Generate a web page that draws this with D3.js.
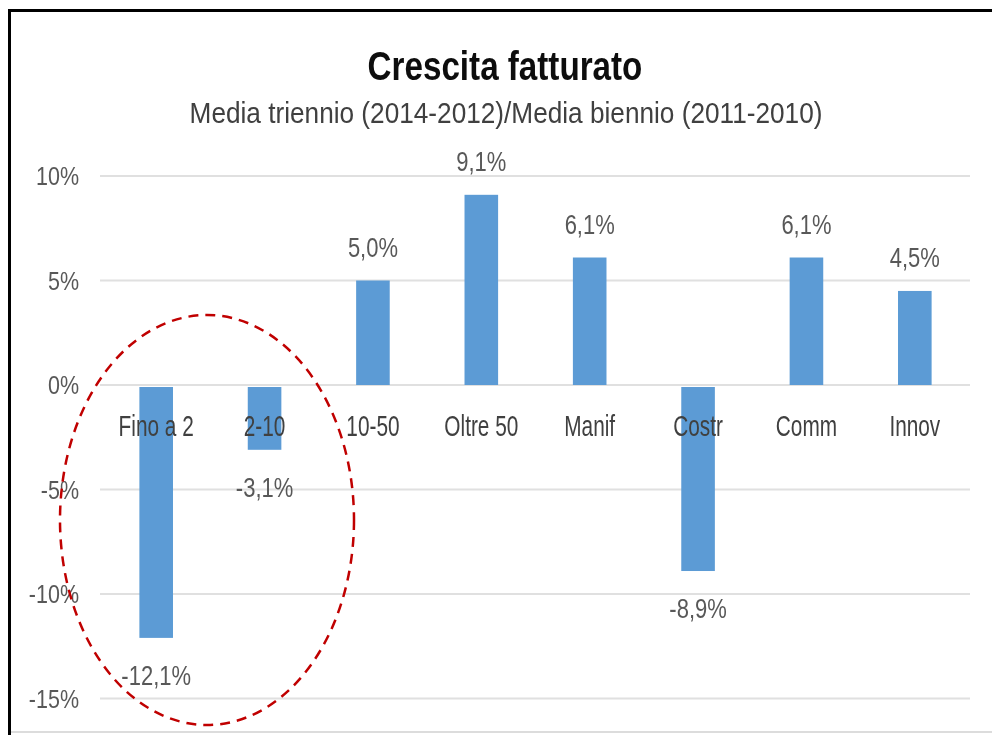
<!DOCTYPE html>
<html>
<head>
<meta charset="utf-8">
<script src="https://cdn.jsdelivr.net/npm/d3@7"></script>
<style>
  body { margin: 0; background: #fff; }
  text { font-family: "Liberation Sans", Arial, sans-serif; }
</style>
</head>
<body>
<script>
// chart data
var categories = ['Fino a 2', '2-10', '10-50', 'Oltre 50', 'Manif', 'Costr', 'Comm', 'Innov'];
var growth = [-12.1, -3.1, 5.0, 9.1, 6.1, -8.9, 6.1, 4.5];
var yTicks = [-15, -10, -5, 0, 5, 10];
var title = 'Crescita fatturato';
var subtitle = 'Media triennio (2014-2012)/Media biennio (2011-2010)';

var width = 992;
var height = 735;

var svg = d3.select('body').append('svg')
            .attr('width', width)
            .attr('height', height);

// the source is a soft, slightly blurred screenshot
svg.append('defs').append('filter')
   .attr('id', 'soft')
   .append('feGaussianBlur')
   .attr('stdDeviation', 0.45);

var fmt = function(v){
  return v.toFixed(1).replace('.', ',') + '%';
};

var x = d3.scaleBand()
          .domain(categories)
          .range([102, 969])
          .paddingInner(0.69)
          .paddingOuter(0.345);

var y = d3.scaleLinear()
          .domain([-15, 10])
          .range([698.5, 176]);

// frame (photo crop)
svg.append('line').attr('x1', 8).attr('x2', width).attr('y1', 10.5).attr('y2', 10.5)
   .attr('stroke', '#000').attr('stroke-width', 3);
svg.append('line').attr('x1', 9.5).attr('x2', 9.5).attr('y1', 9).attr('y2', height)
   .attr('stroke', '#000').attr('stroke-width', 3);
svg.append('line').attr('x1', 11).attr('x2', width).attr('y1', 732).attr('y2', 732)
   .attr('stroke', '#d0d0d0').attr('stroke-width', 1.5);

var chart = svg.append('g').attr('filter', 'url(#soft)');

// stretched text helper
var label = function(g, tx, ty, str, size, sy, anchor, fill, weight){
  return g.append('text')
    .attr('transform', 'translate(' + tx + ',' + ty + ') scale(1,' + sy + ')')
    .attr('text-anchor', anchor)
    .attr('font-size', size)
    .attr('font-weight', weight || 'normal')
    .attr('fill', fill)
    .text(str);
};

label(chart, 505, 80, title, 33.2, 1.25, 'middle', '#0d0d0d', 'bold');
label(chart, 506, 123, subtitle, 26.2, 1.1, 'middle', '#404040');

// y axis gridlines + labels
var grid = chart.append('g');
grid.selectAll('line')
    .data(yTicks)
    .enter()
    .append('line')
    .attr('x1', 100)
    .attr('x2', 970)
    .attr('y1', function(d){ return y(d); })
    .attr('y2', function(d){ return y(d); })
    .attr('stroke', '#e0e0e0')
    .attr('stroke-width', 2);

yTicks.forEach(function(t){
  label(grid, 79, y(t) + 9, t + '%', 21.5, 1.2, 'end', '#595959');
});

// bars
chart.selectAll('rect.bar')
   .data(growth)
   .enter()
   .append('rect')
   .attr('class', 'bar')
   .attr('x', function(d, i){ return x(categories[i]); })
   .attr('width', x.bandwidth())
   .attr('y', function(d){ return d >= 0 ? y(d) : y(0) + 2; })
   .attr('height', function(d){ return d >= 0 ? y(0) - y(d) : y(d) - y(0) - 2; })
   .attr('fill', '#5B9BD5');

// category labels
var cats = chart.append('g');
categories.forEach(function(c){
  label(cats, x(c) + x.bandwidth() / 2, 436, c, 20.8, 1.4, 'middle', '#404040');
});

// value labels
var vals = chart.append('g');
growth.forEach(function(v, i){
  var cx = x(categories[i]) + x.bandwidth() / 2;
  var ty = v >= 0 ? y(v) - 24 : y(v) + 47;
  label(vals, cx, ty, fmt(v), 22, 1.27, 'middle', '#595959');
});

// red dashed ellipse around the size classes
chart.append('ellipse')
   .attr('cx', 207)
   .attr('cy', 520)
   .attr('rx', 147)
   .attr('ry', 205)
   .attr('fill', 'none')
   .attr('stroke', '#C00000')
   .attr('stroke-width', 2.5)
   .attr('stroke-dasharray', '10,7');
</script>
</body>
</html>
